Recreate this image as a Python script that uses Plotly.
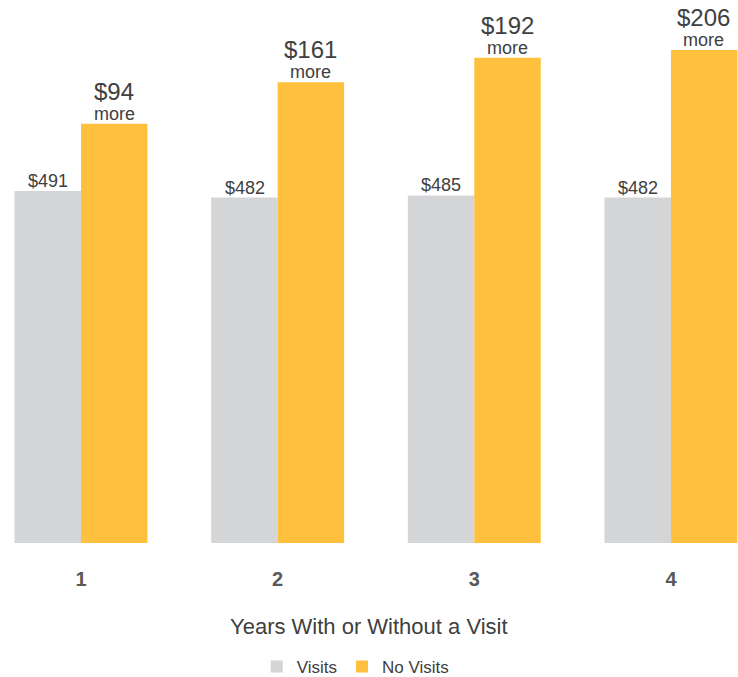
import plotly.graph_objects as go

categories = ["1", "2", "3", "4"]
visits = [491, 482, 485, 482]
more = [94, 161, 192, 206]
no_visits = [v + m for v, m in zip(visits, more)]

GREY = "#D4D5D7"
ORANGE = "#FFC13D"
TXT = "#404040"
FONT = "Arial, Liberation Sans, sans-serif"

fig = go.Figure()
fig.add_bar(x=categories, y=visits, name="Visits", marker_color=GREY,
            marker_line_width=0, hoverinfo="skip")
fig.add_bar(x=categories, y=no_visits, name="No Visits", marker_color=ORANGE,
            marker_line_width=0, hoverinfo="skip")

shift = 33
for i, (v, nv, m) in enumerate(zip(visits, no_visits, more)):
    fig.add_annotation(x=i, y=v, xref="x", yref="y", xshift=-shift, yshift=-2,
                       text=f"${v}", showarrow=False, yanchor="bottom",
                       font=dict(family=FONT, size=18, color=TXT))
    fig.add_annotation(x=i, y=nv, xref="x", yref="y", xshift=shift, yshift=-2,
                       text="more", showarrow=False, yanchor="bottom",
                       font=dict(family=FONT, size=18, color=TXT))
    fig.add_annotation(x=i, y=nv, xref="x", yref="y", xshift=shift, yshift=17,
                       text=f"${m}", showarrow=False, yanchor="bottom",
                       font=dict(family=FONT, size=24, color=TXT))

fig.add_annotation(x=0.5, y=(543 - 626) / 543, xref="paper", yref="paper",
                   text="Years With or Without a Visit", showarrow=False,
                   yanchor="middle", xanchor="center",
                   font=dict(family=FONT, size=22, color=TXT))

fig.update_layout(
    width=738, height=677,
    margin=dict(l=0, r=0, t=0, b=134, autoexpand=False),
    paper_bgcolor="white", plot_bgcolor="white",
    barmode="group", bargap=0.324, bargroupgap=0,
    showlegend=True,
    legend=dict(orientation="h", x=0.482, xanchor="center",
                y=(543 - 667) / 543, yanchor="middle",
                font=dict(family=FONT, size=17, color=TXT),
                itemwidth=30, tracegroupgap=0),
    font=dict(family=FONT, color=TXT),
)
fig.update_xaxes(type="category", range=[-0.412, 3.341], showgrid=False,
                 showline=False, zeroline=False, ticks="", automargin=False,
                 ticklabelstandoff=22,
                 tickfont=dict(family=FONT, size=20, color="#595959", weight="bold"))
fig.update_yaxes(range=[0, 757.6], showgrid=False, showticklabels=False,
                 zeroline=False, showline=False, automargin=False)

fig.write_html("out.html", config={"displayModeBar": False},
               post_script="document.body.style.margin='0';document.body.style.overflow='hidden';")
